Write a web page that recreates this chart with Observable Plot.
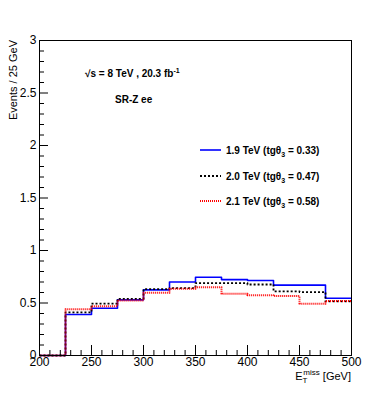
<!DOCTYPE html>
<html><head><meta charset="utf-8">
<script src="https://cdn.jsdelivr.net/npm/d3@7"></script>
<script src="https://cdn.jsdelivr.net/npm/@observablehq/plot@0.6"></script>
<style>body{margin:0;background:#fff} svg{font-family:"Liberation Sans",Arial,Helvetica,sans-serif}</style>
</head><body><div id="chart"></div>
<script>
// ---- data ----
const binEdges = [200,225,250,275,300,325,350,375,400,425,450,475,500];
const seriesLabels = ["1.9 TeV", "2.0 TeV", "2.1 TeV"];
const tgThetaValues = ["0.33", "0.47", "0.58"];
const blueValues  = [0, 0.39, 0.45, 0.53, 0.625, 0.70, 0.745, 0.723, 0.714, 0.67, 0.67, 0.545];
const blackValues = [0, 0.41, 0.495, 0.54, 0.632, 0.642, 0.69, 0.69, 0.676, 0.61, 0.604, 0.515];
const redValues   = [0, 0.44, 0.47, 0.525, 0.597, 0.635, 0.651, 0.588, 0.575, 0.566, 0.494, 0.519];
const xTicks = [200, 250, 300, 350, 400, 450, 500];
const yTicks = [0, 0.5, 1, 1.5, 2, 2.5, 3];

// ---- layout ----
const W = 390, H = 395, mL = 39, mR = 39, mT = 40, mB = 40;
const frameW = W - mL - mR, frameH = H - mT - mB;

function stepRows(values) {
  const rows = values.map((v, i) => ({x: binEdges[i], y: v}));
  rows.push({x: binEdges[binEdges.length - 1], y: values[values.length - 1]});
  return rows;
}
const xMinor = d3.range(200, 501, 10).filter(v => !xTicks.includes(v));
const yMinor = d3.range(0, 31).map(i => i / 10).filter(v => !yTicks.some(t => Math.abs(t - v) < 1e-9));

const styles = [
  {values: blueValues, stroke: "#0000ff", dash: null, width: 1.6},
  {values: blackValues, stroke: "#000000", dash: "2,2", width: 1.8},
  {values: redValues, stroke: "#ff0000", dash: "1,1", width: 2}
];

const plot = Plot.plot({
  width: W, height: H,
  marginLeft: mL, marginRight: mR, marginTop: mT, marginBottom: mB,
  style: {background: "#fff", fontFamily: "Liberation Sans, Arial, sans-serif", overflow: "visible"},
  x: {domain: [200, 500]},
  y: {domain: [0, 3]},
  marks: [
    ...styles.map(s => Plot.line(stepRows(s.values), {
      x: "x", y: "y", curve: "step-after", stroke: s.stroke, strokeWidth: s.width,
      strokeDasharray: s.dash, strokeLinecap: "butt"
    })),
    Plot.ruleX(xTicks, {insetTop: frameH - 10, stroke: "#000"}),
    Plot.ruleX(xMinor, {insetTop: frameH - 5, stroke: "#000"}),
    Plot.ruleY(yTicks, {insetRight: frameW - 9, stroke: "#000"}),
    Plot.ruleY(yMinor, {insetRight: frameW - 5, stroke: "#000"}),
    Plot.frame({stroke: "#000"}),
    Plot.axisX({ticks: xTicks, tickSize: 0, tickPadding: 2, label: null, fontSize: 12, tickFormat: d => String(d)}),
    Plot.axisY({ticks: yTicks, tickSize: 0, tickPadding: 3, label: null, fontSize: 12, tickFormat: d => String(d)})
  ]
});
document.getElementById("chart").appendChild(plot);

// ---- rich text (titles, annotations, legend) ----
const svg = d3.select(plot);
const g = svg.append("g").attr("fill", "#000").attr("text-anchor", "start");

g.append("text")
  .attr("transform", `translate(17,${mT}) rotate(-90)`)
  .attr("text-anchor", "end").attr("font-size", 11)
  .text("Events / 25 GeV");

const xt = g.append("text").attr("x", W - mR).attr("y", 380)
  .attr("text-anchor", "end").attr("font-size", 11);
xt.append("tspan").text("E");
xt.append("tspan").attr("font-size", 8).attr("dy", 3).text("T");
xt.append("tspan").attr("font-size", 8).attr("dx", -4).attr("dy", -8).text("miss");
xt.append("tspan").attr("dy", 5).text(" [GeV]");

const ann = g.append("text").attr("x", 85).attr("y", 77)
  .attr("font-size", 10).attr("font-weight", "bold");
ann.append("tspan").text("√s = 8 TeV , 20.3 fb");
ann.append("tspan").attr("font-size", 7).attr("dy", -4).text("-1");

g.append("text").attr("x", 115).attr("y", 103)
  .attr("font-size", 10).attr("font-weight", "bold").text("SR-Z ee");

const legendY = [150, 176, 201];
styles.forEach((s, i) => {
  g.append("line").attr("x1", 200).attr("x2", 221)
    .attr("y1", legendY[i]).attr("y2", legendY[i])
    .attr("stroke", s.stroke).attr("stroke-width", s.width)
    .attr("stroke-dasharray", s.dash);
  const t = g.append("text").attr("x", 226).attr("y", legendY[i] + 3.6)
    .attr("font-size", 10).attr("font-weight", "bold");
  t.append("tspan").text(`${seriesLabels[i]} (tgθ`);
  t.append("tspan").attr("font-size", 7).attr("dy", 3).text("3");
  t.append("tspan").attr("dy", -3).text(` = ${tgThetaValues[i]})`);
});
</script>
</body></html>
